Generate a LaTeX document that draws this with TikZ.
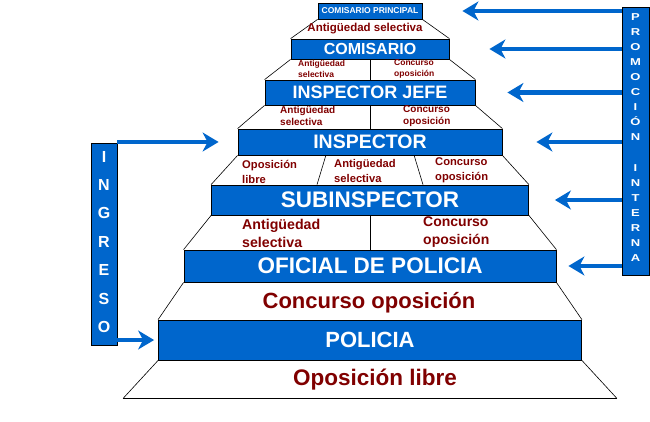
\documentclass[tikz,border=0pt]{standalone}
\usepackage{fontspec}
\setmainfont{Liberation Sans}
\usetikzlibrary{arrows.meta, calc}
\definecolor{rankblue}{HTML}{0066CC}
\definecolor{waytext}{HTML}{800000}
\newcommand{\fsz}[2]{\fontsize{#1}{#2}\selectfont\bfseries}

\begin{document}
\begin{tikzpicture}[x=1pt, y=-1pt,
    rank/.style={draw=black, line width=0.8pt, fill=rankblue, text=white,
      inner sep=0pt, yshift=2pt},
    way/.style={text=waytext, inner sep=0pt, align=left, anchor=west},
    side/.style={draw=black, line width=0.8pt, fill=rankblue, inner sep=0pt},
    sideletter/.style={text=white, inner sep=0pt},
    edge/.style={black, line width=0.6pt},
    arr/.style={rankblue, line width=4.5pt,
      -{Stealth[length=16pt, width=19pt, inset=5pt]}}]
  \useasboundingbox (0,0) rectangle (650,422);

  % ranks, top to bottom
  \node[rank, minimum width=104pt, minimum height=16pt, font=\fsz{8.5}{10}] (comp) at (370,13) {COMISARIO PRINCIPAL};
  \node[rank, minimum width=158pt, minimum height=20pt, font=\fsz{16}{18}] (com) at (370,51) {COMISARIO};
  \node[rank, minimum width=210pt, minimum height=25pt, font=\fsz{18}{20}] (ij) at (370,94.5) {INSPECTOR JEFE};
  \node[rank, minimum width=264pt, minimum height=26pt, font=\fsz{19.5}{22}] (insp) at (370,144) {INSPECTOR};
  \node[rank, minimum width=317pt, minimum height=30pt, font=\fsz{22.5}{24}] (sub) at (370,202) {SUBINSPECTOR};
  \node[rank, minimum width=372pt, minimum height=32pt, font=\fsz{22.5}{24}] (ofi) at (370,268) {OFICIAL DE POLICIA};
  \node[rank, minimum width=423pt, minimum height=40pt, font=\fsz{22}{24}] (pol) at (370,342) {POLICIA};

  % pyramid sides
  \foreach \a/\b in {comp/com, com/ij, ij/insp, insp/sub, sub/ofi, ofi/pol}
    \draw[edge] (\a.south west) -- (\b.north west) (\a.south east) -- (\b.north east);
  \coordinate (baseL) at ($(pol.south west)+(-35,38)$);
  \coordinate (baseR) at ($(pol.south east)+(35,38)$);
  \draw[edge] (pol.south west) -- (baseL) (baseR) -- (pol.south east);
  \draw[black, line width=1.2pt] (baseL) -- (baseR);

  % dividers
  \draw[edge] (com.south) -- (ij.north);
  \draw[edge] (ij.south) -- (insp.north);
  \draw[edge] (sub.south) -- (ofi.north);
  \draw[edge] ($(insp.south west)!1/3!(insp.south east)$) -- ($(sub.north west)!1/3!(sub.north east)$);
  \draw[edge] ($(insp.south west)!2/3!(insp.south east)$) -- ($(sub.north west)!2/3!(sub.north east)$);

  % ways of access
  \node[way, anchor=center, font=\fsz{11.5}{13}] (w1) at (365,29) {Antigüedad selectiva};
  \node[way, font=\fsz{8.5}{11}] (w2) at (298,68.5) {Antigüedad\\selectiva};
  \node[way, font=\fsz{8.5}{11}] (w3) at (394,68.5) {Concurso\\oposición};
  \node[way, font=\fsz{10}{11.5}] (w4) at (280,116) {Antigüedad\\selectiva};
  \node[way, font=\fsz{10}{11.5}] (w5) at (403,116) {Concurso\\oposición};
  \node[way, font=\fsz{11.2}{15}] (w6) at (242,171.5) {Oposición\\libre};
  \node[way, font=\fsz{11.2}{15}] (w7) at (334,170.5) {Antigüedad\\selectiva};
  \node[way, font=\fsz{11.2}{15}] (w8) at (435,170.5) {Concurso\\oposición};
  \node[way, font=\fsz{14.2}{18}] (w9) at (242,233) {Antigüedad\\selectiva};
  \node[way, font=\fsz{14}{18}] (w10) at (423,232) {Concurso\\oposición};
  \node[way, anchor=center, font=\fsz{22}{24}] (w11) at (369,303) {Concurso oposición};
  \node[way, anchor=center, font=\fsz{22.5}{24}] (w12) at (375,380) {Oposición libre};

  % side bars
  \node[side, minimum width=26pt, minimum height=202pt] (ingreso) at (104,244) {};
  \node[side, minimum width=27pt, minimum height=268pt] (promo) at (635.5,141) {};
  \foreach \l [count=\i] in {I,N,G,R,E,S,O}
    \node[sideletter, font=\fsz{16}{16}] (in\i) at (104,{156.5+28.4*(\i-1)}) {\l};
  \foreach \l [count=\i] in {P,R,O,M,O,C,I,Ó,N,{},I,N,T,E,R,N,A}
    \node[sideletter, anchor=base, font=\fsz{10}{11}] (pr\i) at (635.5,{20.5+15.06*(\i-1)}) {\scalebox{1.3}[1]{\l}};

  % arrows
  \draw[arr, shorten >=19pt] (ingreso.east |- insp.west) -- (insp.west);
  \draw[arr, shorten >=4pt] (ingreso.east |- pol.west) -- (pol.west);
  \foreach \n/\g in {comp/40pt, com/40pt, ij/32pt, insp/34pt, sub/26pt, ofi/12pt}
    \draw[arr, shorten >=\g] (promo.west |- \n.east) -- (\n.east);
\end{tikzpicture}
\end{document}
